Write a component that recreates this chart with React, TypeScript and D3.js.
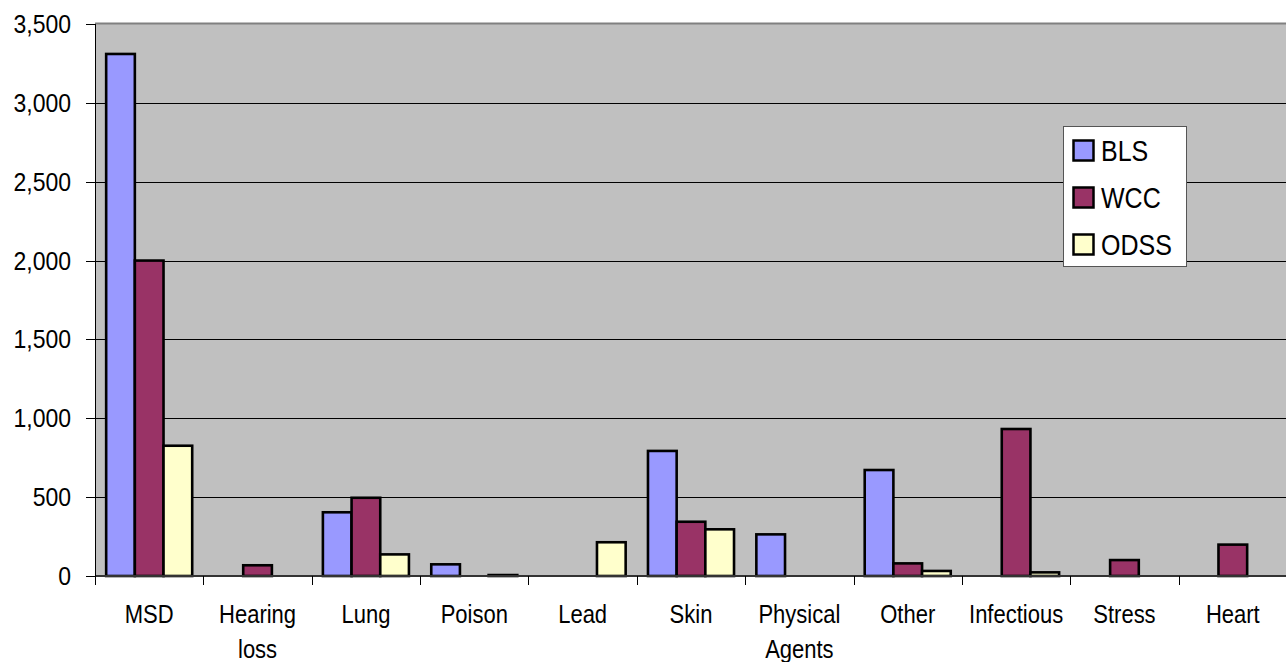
import React from "react";
import * as d3 from "d3";

const categories = [
  "MSD",
  "Hearing loss",
  "Lung",
  "Poison",
  "Lead",
  "Skin",
  "Physical Agents",
  "Other",
  "Infectious",
  "Stress",
  "Heart",
];
const categoryLines: string[][] = [
  ["MSD"],
  ["Hearing", "loss"],
  ["Lung"],
  ["Poison"],
  ["Lead"],
  ["Skin"],
  ["Physical", "Agents"],
  ["Other"],
  ["Infectious"],
  ["Stress"],
  ["Heart"],
];

const seriesNames = ["BLS", "WCC", "ODSS"];
const blsValues = [3310, 0, 404, 74, 0, 793, 264, 672, 0, 0, 0];
const wccValues = [2000, 68, 496, 0, 0, 344, 0, 80, 932, 101, 199];
const odssValues = [826, 0, 137, 6, 214, 296, 0, 32, 23, 0, 0];
const seriesColors = ["#9999FF", "#993366", "#FFFFCC"];

const yTicks = [0, 500, 1000, 1500, 2000, 2500, 3000, 3500];

const W = 1286;
const H = 662;
const plot = { left: 95, right: 1287, top: 24, bottom: 576 };
const FONT = "'Liberation Sans', Arial, sans-serif";
const STRETCH = 1.16;

export default function App() {
  const seriesValues = [blsValues, wccValues, odssValues];

  const x0 = d3
    .scaleBand<string>()
    .domain(categories)
    .range([plot.left, plot.right])
    .paddingInner(0.206)
    .paddingOuter(0.103);
  const x1 = d3
    .scaleBand<string>()
    .domain(seriesNames)
    .range([0, x0.bandwidth()])
    .padding(0);
  const y = d3.scaleLinear().domain([0, 3500]).range([plot.bottom, plot.top]);
  const fmt = d3.format(",");
  const step = x0.step();

  return (
    <svg
      width={W}
      height={H}
      style={{ position: "absolute", left: 0, top: 0, background: "#fff" }}
    >
      {/* plot area */}
      <rect
        x={plot.left}
        y={plot.top}
        width={W - plot.left}
        height={plot.bottom - plot.top}
        fill="#C0C0C0"
      />
      <line
        x1={plot.left}
        x2={W}
        y1={plot.top - 0.5}
        y2={plot.top - 0.5}
        stroke="#808080"
        strokeWidth={2}
      />

      {/* gridlines */}
      {yTicks.slice(1, -1).map((t) => (
        <line
          key={"g" + t}
          x1={plot.left}
          x2={W}
          y1={Math.round(y(t)) + 0.5}
          y2={Math.round(y(t)) + 0.5}
          stroke="#000"
          strokeWidth={1}
        />
      ))}

      {/* bars */}
      {categories.map((c, i) => (
        <g key={c} transform={`translate(${x0(c)},0)`}>
          {seriesNames.map((s, k) => {
            const v = seriesValues[k][i];
            if (!v) return null;
            const top = y(v);
            return (
              <rect
                key={s}
                x={x1(s)}
                y={top}
                width={x1.bandwidth()}
                height={plot.bottom - top}
                fill={seriesColors[k]}
                stroke="#000"
                strokeWidth={2.6}
              />
            );
          })}
        </g>
      ))}

      {/* x axis */}
      <line
        x1={plot.left}
        x2={W}
        y1={plot.bottom}
        y2={plot.bottom}
        stroke="#333"
        strokeWidth={2}
      />
      {d3.range(categories.length + 1).map((i) => {
        const xx = Math.round(plot.left + i * step) + 0.5;
        return (
          <line
            key={"xt" + i}
            x1={xx}
            x2={xx}
            y1={plot.bottom}
            y2={plot.bottom + 9}
            stroke="#000"
            strokeWidth={1}
          />
        );
      })}
      {categories.map((c, i) => {
        const cx = (x0(c) as number) + x0.bandwidth() / 2;
        return categoryLines[i].map((ln, j) => (
          <text
            key={c + j}
            transform={`translate(${cx},${623 + j * 35}) scale(1,${STRETCH})`}
            textAnchor="middle"
            fontFamily={FONT}
            fontSize={22}
            fill="#000"
          >
            {ln}
          </text>
        ));
      })}

      {/* y axis */}
      <line
        x1={plot.left + 0.5}
        x2={plot.left + 0.5}
        y1={plot.top}
        y2={plot.bottom}
        stroke="#000"
        strokeWidth={1}
      />
      {yTicks.map((t) => (
        <g key={"yt" + t}>
          <line
            x1={86}
            x2={plot.left}
            y1={Math.round(y(t)) + 0.5}
            y2={Math.round(y(t)) + 0.5}
            stroke="#000"
            strokeWidth={1}
          />
          <text
            transform={`translate(71,${y(t) + 9}) scale(1,${STRETCH})`}
            textAnchor="end"
            fontFamily={FONT}
            fontSize={23}
            fill="#000"
          >
            {fmt(t)}
          </text>
        </g>
      ))}

      {/* legend */}
      <rect
        x={1063.5}
        y={126.5}
        width={123}
        height={140}
        fill="#fff"
        stroke="#555"
        strokeWidth={1}
      />
      {seriesNames.map((s, k) => {
        const cy = 151 + k * 47;
        return (
          <g key={"lg" + s}>
            <rect
              x={1073.5}
              y={cy - 10.5}
              width={20}
              height={20}
              fill={seriesColors[k]}
              stroke="#000"
              strokeWidth={2.5}
            />
            <text
              transform={`translate(1101,${cy + 10}) scale(1,${STRETCH})`}
              fontFamily={FONT}
              fontSize={25}
              fill="#000"
            >
              {s}
            </text>
          </g>
        );
      })}
    </svg>
  );
}
